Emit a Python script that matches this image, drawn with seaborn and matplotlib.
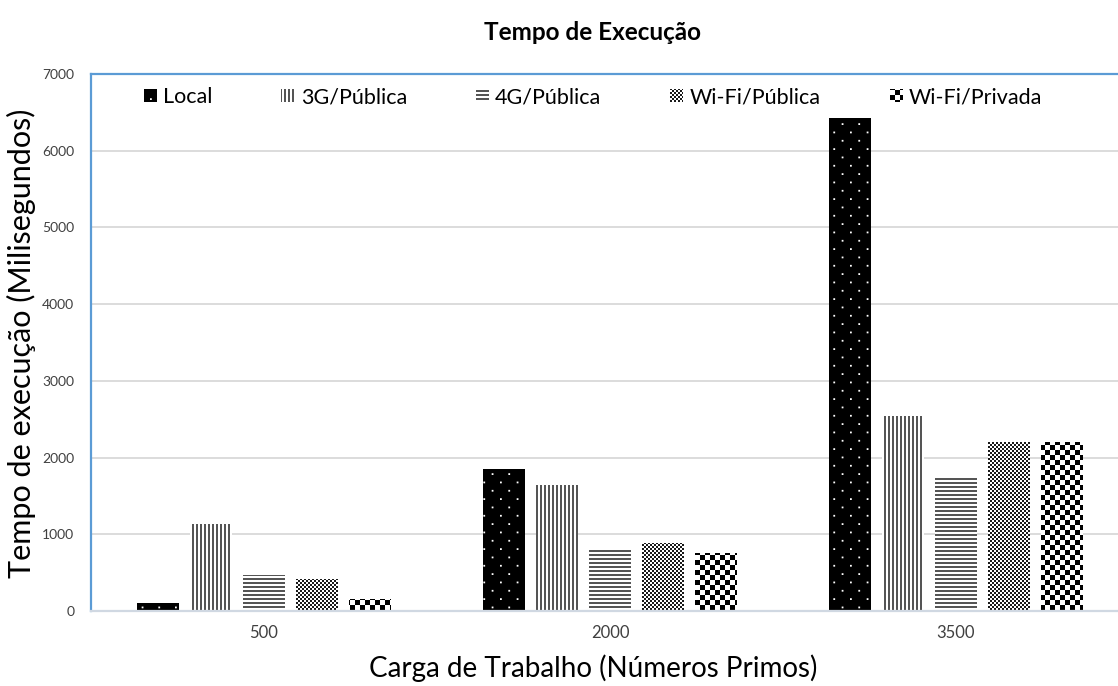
import numpy as np
import pandas as pd
import matplotlib
matplotlib.use("Agg")
import matplotlib.pyplot as plt
import matplotlib.hatch as mhatch
from matplotlib.path import Path
from matplotlib.patches import Patch
import seaborn as sns

# ---------------- data ----------------
categories = ["500", "2000", "3500"]
series = ["Local", "3G/Pública", "4G/Pública", "Wi-Fi/Pública", "Wi-Fi/Privada"]
local = [100, 1850, 6430]
g3_publica = [1140, 1640, 2540]
g4_publica = [470, 800, 1740]
wifi_publica = [420, 890, 2200]
wifi_privada = [150, 760, 2200]
yticks = [0, 1000, 2000, 3000, 4000, 5000, 6000, 7000]

values = [local, g3_publica, g4_publica, wifi_publica, wifi_privada]
df = pd.DataFrame({
    "carga": [c for s in series for c in categories],
    "rede": [s for s in series for c in categories],
    "tempo": [v for vals in values for v in vals],
})

# ---------------- custom filled hatch patterns ----------------
MOVE, LINE, CLOSE = Path.MOVETO, Path.LINETO, Path.CLOSEPOLY


def _rect(vertices, codes, k, x0, y0, x1, y1):
    vertices[k:k + 5] = [(x0, y0), (x1, y0), (x1, y1), (x0, y1), (x0, y0)]
    codes[k:k + 5] = [MOVE, LINE, LINE, LINE, CLOSE]
    return k + 5


class VStripes(mhatch.HatchPatternBase):
    char = "|"

    def __init__(self, hatch, density):
        self.n = hatch.count(self.char) * 5
        self.num_vertices = self.n * 5

    def set_vertices_and_codes(self, vertices, codes):
        step = 1.0 / self.n
        k = 0
        for i in range(self.n):
            k = _rect(vertices, codes, k, i * step, 0.0, i * step + step * 0.5, 1.0)


class HStripes(mhatch.HatchPatternBase):
    char = "-"

    def __init__(self, hatch, density):
        self.n = hatch.count(self.char) * 5
        self.num_vertices = self.n * 5

    def set_vertices_and_codes(self, vertices, codes):
        step = 1.0 / self.n
        k = 0
        for i in range(self.n):
            k = _rect(vertices, codes, k, 0.0, i * step, 1.0, i * step + step * 0.5)


class Checker(mhatch.HatchPatternBase):
    char = "O"

    def __init__(self, hatch, density):
        self.n = hatch.count(self.char) * 10
        self.num_vertices = (self.n * self.n // 2) * 5

    def set_vertices_and_codes(self, vertices, codes):
        n = self.n
        s = 1.0 / n
        k = 0
        for i in range(n):
            for j in range(n):
                if (i + j) % 2 == 0:
                    k = _rect(vertices, codes, k, i * s, j * s, (i + 1) * s, (j + 1) * s)


class Dots(mhatch.HatchPatternBase):
    char = "."

    def __init__(self, hatch, density):
        self.rows = 12 if hatch.count(self.char) else 0
        self.cols = 6
        self.num_vertices = self.rows * self.cols * 5

    def set_vertices_and_codes(self, vertices, codes):
        k = 0
        d = 0.018
        rs = 1.0 / self.rows
        cs = 1.0 / self.cols
        for r in range(self.rows):
            off = 0.0 if r % 2 == 0 else cs / 2
            for c in range(self.cols):
                x = (c * cs + off) % 1.0
                y = r * rs
                k = _rect(vertices, codes, k, x, y, x + d, y + d)


if hasattr(mhatch, "_hatch_types"):
    mhatch._hatch_types[:] = [VStripes, HStripes, Checker, Dots]

# ---------------- style ----------------
sns.set_theme(style="white")
plt.rcParams["font.family"] = ["Lato", "DejaVu Sans"]
plt.rcParams["hatch.linewidth"] = 0.0

fig = plt.figure(figsize=(11.18, 6.86), dpi=100)
ax = fig.add_axes([91 / 1118, 1 - 611 / 686, (1129 - 91) / 1118, (611 - 74) / 686])

sns.barplot(data=df, x="carga", y="tempo", hue="rede", order=categories,
            hue_order=series, width=0.765, gap=0.2, ax=ax,
            palette=["black"] + ["white"] * 4, legend=False, errorbar=None)

styles = {
    "Local": dict(face="black", hatch=".", hcol="white"),
    "3G/Pública": dict(face="white", hatch="|||||", hcol="#555555"),
    "4G/Pública": dict(face="white", hatch="-----", hcol="#555555"),
    "Wi-Fi/Pública": dict(face="white", hatch="OOOOO", hcol="#1a1a1a"),
    "Wi-Fi/Privada": dict(face="white", hatch="OO", hcol="black"),
}

for cont, name in zip(ax.containers, series):
    st = styles[name]
    for bar in cont:
        bar.set_facecolor(st["face"])
        bar.set_edgecolor(st["hcol"])
        bar.set_hatch(st["hatch"])
        bar.set_linewidth(0)

ax.set_ylim(0, 7000)
ax.set_yticks(yticks)
ax.set_yticklabels([str(t) for t in yticks], fontsize=10, color="#404040")
ax.tick_params(axis="x", labelsize=12, colors="#404040", length=0, pad=10)
ax.tick_params(axis="y", length=0, pad=12)
ax.yaxis.grid(True, color="#d9d9d9", linewidth=1.3)
ax.set_axisbelow(True)
ax.set_xlabel("")
ax.set_ylabel("")

for sp in ["top", "left", "right"]:
    ax.spines[sp].set_color("#5b9bd5")
    ax.spines[sp].set_linewidth(1.6)
ax.spines["bottom"].set_color("#d0d8e2")
ax.spines["bottom"].set_linewidth(1.6)

handles = [Patch(facecolor=styles[s]["face"], edgecolor=styles[s]["hcol"],
                 hatch=styles[s]["hatch"], linewidth=0, label=s) for s in series]
fig.legend(handles=handles, loc="center", bbox_to_anchor=(593 / 1118, 1 - 97 / 686),
           ncol=5, frameon=False, fontsize=15.5, handlelength=0.6, handleheight=0.6,
           handletextpad=0.3, columnspacing=3.2, labelcolor="black")

fig.text(593 / 1118, 1 - 32 / 686, "Tempo de Execução", ha="center", va="center",
         fontsize=17.5, fontweight="bold", color="black")
fig.text(593 / 1118, 1 - 668 / 686, "Carga de Trabalho (Números Primos)", ha="center",
         va="center", fontsize=20, color="black")
fig.text(21 / 1118, 1 - 343 / 686, "Tempo de execução (Milisegundos)", ha="center",
         va="center", rotation=90, fontsize=22, color="black")

fig.savefig("out.png", dpi=100, facecolor="white")
